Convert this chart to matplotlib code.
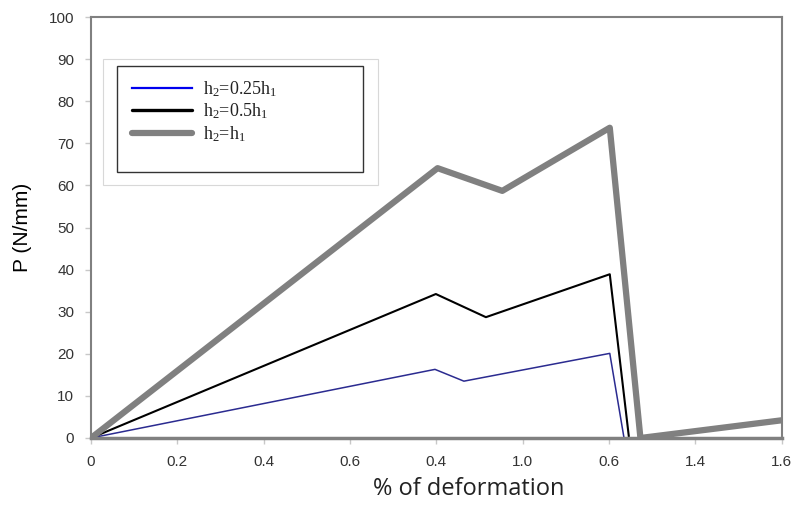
import matplotlib
matplotlib.use('Agg')
import matplotlib.pyplot as plt
from matplotlib.lines import Line2D
from matplotlib.patches import Rectangle

# data
x_025 = [0, 0.797, 0.864, 1.202, 1.235]
y_025 = [0, 16.3, 13.5, 20.1, 0]
x_05 = [0, 0.799, 0.915, 1.202, 1.246]
y_05 = [0, 34.2, 28.7, 38.9, 0.5]
x_1 = [0, 0.803, 0.953, 1.202, 1.273, 1.6]
y_1 = [0, 64.1, 58.7, 73.7, 0, 4.2]

xticks = [0, 0.2, 0.4, 0.6, 0.8, 1.0, 1.2, 1.4, 1.6]
xtick_labels = ['0', '0.2', '0.4', '0.6', '0.4', '1.0', '0.6', '1.4', '1.6']
yticks = [0, 10, 20, 30, 40, 50, 60, 70, 80, 90, 100]
labels = [r'$\mathregular{h_2}$=0.25$\mathregular{h_1}$',
          r'$\mathregular{h_2}$=0.5$\mathregular{h_1}$',
          r'$\mathregular{h_2}$=$\mathregular{h_1}$']

fig = plt.figure(figsize=(7.92, 5.27), dpi=100)
ax = fig.add_axes([0.1149, 0.1689, 0.8719, 0.7988])

ax.plot(x_025, y_025, color='#2b2b90', lw=1.1)
ax.plot(x_05, y_05, color='black', lw=1.5)
ax.plot(x_1, y_1, color='#808080', lw=4.5)

ax.set_xlim(0, 1.6)
ax.set_ylim(0, 100)
ax.set_xticks(xticks)
ax.set_xticklabels(xtick_labels)
ax.set_yticks(yticks)
for s in ax.spines.values():
    s.set_color('#808080')
    s.set_linewidth(1.5)
ax.spines['bottom'].set_linewidth(2.5)
ax.tick_params(axis='both', colors='#c8c8c8', length=4, width=1,
               labelcolor='#333333', labelsize=11)
ax.tick_params(axis='x', pad=8)
ax.tick_params(axis='y', pad=8)
for t in ax.get_xticklabels() + ax.get_yticklabels():
    t.set_fontfamily('Liberation Sans')

ax.set_ylabel('P (N/mm)', fontsize=15, family='Liberation Sans', labelpad=12)
fig.text(0.592, 0.072, '% of deformation', fontsize=17, family='Open Sans',
         ha='center', va='center', color='#222222')

# legend boxes
ax.add_patch(Rectangle((0.018, 0.600), 0.397, 0.300, transform=ax.transAxes,
                       fill=False, ec='#d8d8d8', lw=0.8, zorder=5))
ax.add_patch(Rectangle((0.037, 0.633), 0.357, 0.251, transform=ax.transAxes,
                       fill=False, ec='#333333', lw=1.0, zorder=5))
handles = [Line2D([], [], color='#0000ee', lw=1.6),
           Line2D([], [], color='black', lw=2.4, solid_capstyle='round'),
           Line2D([], [], color='#808080', lw=4.5, solid_capstyle='round')]
leg = ax.legend(handles, labels, loc='upper left', bbox_to_anchor=(0.060, 0.852),
                frameon=False, borderpad=0, borderaxespad=0, handlelength=3.3,
                handletextpad=0.6, labelspacing=0.15,
                prop={'family': 'Liberation Serif', 'size': 13})
for t in leg.get_texts():
    t.set_color('#222222')

fig.savefig('out.png', dpi=100)
